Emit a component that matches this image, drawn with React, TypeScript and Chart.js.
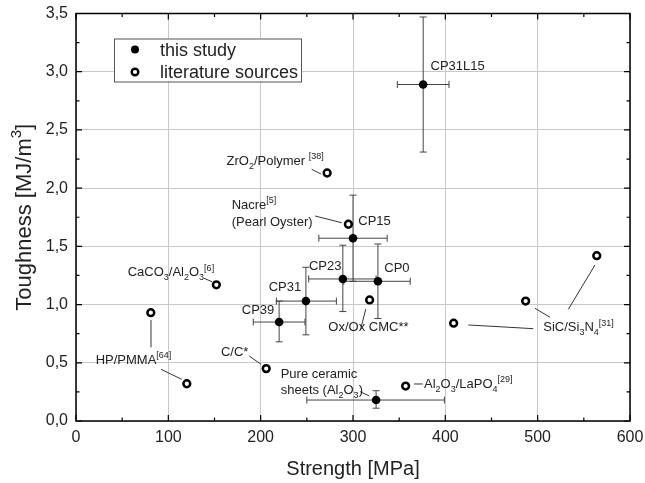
import React, { useEffect, useRef } from "react";
import { Chart, registerables } from "chart.js";
Chart.register(...registerables);

// ---- data: this study (filled) ----
const studyNames = ["CP31L15", "CP15", "CP23", "CP0", "CP31", "CP39", "Pure ceramic sheets (Al2O3)"];
const studyStrength = [376, 300, 289, 327, 249, 220, 325];
const studyToughness = [2.89, 1.57, 1.22, 1.2, 1.03, 0.85, 0.18];
const studyStrengthLow = [348, 263, 252, 290, 217, 192, 250];
const studyStrengthHigh = [404, 337, 325, 362, 282, 248, 399];
const studyToughnessLow = [2.31, 1.2, 0.94, 0.88, 0.74, 0.68, 0.11];
const studyToughnessHigh = [3.47, 1.94, 1.51, 1.52, 1.32, 1.03, 0.26];

// ---- data: literature sources (open) ----
const litNames = ["ZrO2/Polymer", "Nacre", "CaCO3/Al2O3", "HP/PMMA", "HP/PMMA", "C/C*", "Ox/Ox CMC**", "SiC/Si3N4", "SiC/Si3N4", "SiC/Si3N4", "Al2O3/LaPO4"];
const litStrength = [272, 295, 152, 81, 120, 206, 318, 409, 487, 564, 357];
const litToughness = [2.13, 1.69, 1.17, 0.93, 0.32, 0.45, 1.04, 0.84, 1.03, 1.42, 0.3];

// ---- axes ----
const xMin = 0, xMax = 600, xMajor = 100, xMinor = 50;
const yMin = 0, yMax = 3.5, yMajor = 0.5, yMinor = 0.25;
const xTitle = "Strength [MPa]";
const yTitle = "Toughness [MJ/m^{3}]";
const legendLabels = ["this study", "literature sources"];

// ---- annotation texts (markup: _{sub} ^{sup}) anchored in data coords ----
const annTexts = [
  "CP31L15", "ZrO_{2}/Polymer ^{[38]}", "Nacre^{[5]}", "(Pearl Oyster)", "CP15",
  "CaCO_{3}/Al_{2}O_{3}^{[6]}", "CP23", "CP0", "CP31", "CP39", "Ox/Ox CMC**",
  "HP/PMMA^{[64]}", "C/C*", "Pure ceramic", "sheets (Al_{2}O_{3})",
  "Al_{2}O_{3}/LaPO_{4}^{[29]}", "SiC/Si_{3}N_{4}^{[31]}",
];
const annX = [384, 163, 168.6, 168.6, 305.7, 56, 252.3, 333.9, 208.7, 179.5, 273.3, 21.3, 157, 221.7, 221.7, 376.9, 506.1];
const annY = [3.058, 2.242, 1.864, 1.712, 1.72, 1.282, 1.34, 1.317, 1.153, 0.959, 0.81, 0.533, 0.601, 0.41, 0.272, 0.324, 0.81];

// connector lines [x1, y1, x2, y2] in data coords
const connectors = [
  [255.3, 2.162, 265.3, 2.121],
  [258.8, 1.761, 287.8, 1.703],
  [138.6, 1.226, 147.3, 1.196],
  [308.3, 0.788, 313.8, 0.962],
  [81.2, 0.867, 81.2, 0.633],
  [92.1, 0.444, 114.5, 0.358],
  [187.7, 0.558, 200.4, 0.487],
  [307.6, 0.252, 317.7, 0.215],
  [366.1, 0.318, 375.5, 0.318],
  [495.3, 0.793, 424.9, 0.825],
  [513.4, 0.891, 497.1, 0.968],
  [533.2, 0.959, 562.1, 1.34],
];

const FONT = "'Liberation Sans', Arial, Helvetica, sans-serif";
const TEXT_COLOR = "#222";

type Seg = { t: string; k: number };
function parseRich(s: string): Seg[] {
  const out: Seg[] = [];
  let i = 0;
  let buf = "";
  while (i < s.length) {
    if ((s[i] === "_" || s[i] === "^") && s[i + 1] === "{") {
      if (buf) out.push({ t: buf, k: 0 });
      buf = "";
      const end = s.indexOf("}", i);
      out.push({ t: s.slice(i + 2, end), k: s[i] === "_" ? 1 : 2 });
      i = end + 1;
    } else {
      buf += s[i];
      i++;
    }
  }
  if (buf) out.push({ t: buf, k: 0 });
  return out;
}

function drawRich(ctx: CanvasRenderingContext2D, s: string, x: number, yCenter: number, size: number, align: "left" | "center" = "left") {
  const segs = parseRich(s);
  const small = Math.round(size * 0.68);
  let w = 0;
  for (const sg of segs) {
    ctx.font = `${sg.k ? small : size}px ${FONT}`;
    w += ctx.measureText(sg.t).width;
  }
  let cx = align === "center" ? x - w / 2 : x;
  const base = yCenter + size * 0.36;
  ctx.textAlign = "left";
  ctx.textBaseline = "alphabetic";
  ctx.fillStyle = TEXT_COLOR;
  for (const sg of segs) {
    ctx.font = `${sg.k ? small : size}px ${FONT}`;
    const dy = sg.k === 1 ? size * 0.3 : sg.k === 2 ? -size * 0.45 : 0;
    ctx.fillText(sg.t, cx, base + dy);
    cx += ctx.measureText(sg.t).width;
  }
}

const decorPlugin = {
  id: "decor",
  beforeDatasetsDraw(chart: any) {
    const ctx = chart.ctx as CanvasRenderingContext2D;
    const xs = chart.scales.x, ys = chart.scales.y;
    ctx.save();
    ctx.strokeStyle = "#444";
    ctx.lineWidth = 1;
    const cap = 3.5;
    for (let i = 0; i < studyStrength.length; i++) {
      const px = xs.getPixelForValue(studyStrength[i]);
      const py = ys.getPixelForValue(studyToughness[i]);
      const xl = xs.getPixelForValue(studyStrengthLow[i]);
      const xh = xs.getPixelForValue(studyStrengthHigh[i]);
      const yl = ys.getPixelForValue(studyToughnessLow[i]);
      const yh = ys.getPixelForValue(studyToughnessHigh[i]);
      ctx.beginPath();
      ctx.moveTo(xl, py); ctx.lineTo(xh, py);
      ctx.moveTo(xl, py - cap); ctx.lineTo(xl, py + cap);
      ctx.moveTo(xh, py - cap); ctx.lineTo(xh, py + cap);
      ctx.moveTo(px, yl); ctx.lineTo(px, yh);
      ctx.moveTo(px - cap, yl); ctx.lineTo(px + cap, yl);
      ctx.moveTo(px - cap, yh); ctx.lineTo(px + cap, yh);
      ctx.stroke();
    }
    // connectors
    ctx.strokeStyle = "#333";
    ctx.beginPath();
    for (const c of connectors) {
      ctx.moveTo(xs.getPixelForValue(c[0]), ys.getPixelForValue(c[1]));
      ctx.lineTo(xs.getPixelForValue(c[2]), ys.getPixelForValue(c[3]));
    }
    ctx.stroke();
    ctx.restore();
  },
  afterDatasetsDraw(chart: any) {
    const ctx = chart.ctx as CanvasRenderingContext2D;
    const xs = chart.scales.x, ys = chart.scales.y;
    const a = chart.chartArea;
    ctx.save();
    // annotations
    for (let i = 0; i < annTexts.length; i++) {
      drawRich(ctx, annTexts[i], xs.getPixelForValue(annX[i]), ys.getPixelForValue(annY[i]), 13);
    }
    // frame
    ctx.strokeStyle = "#000";
    ctx.lineWidth = 1.5;
    ctx.strokeRect(a.left, a.top, a.right - a.left, a.bottom - a.top);
    // inward ticks
    ctx.lineWidth = 1.2;
    ctx.beginPath();
    for (let v = xMin; v <= xMax + 1e-9; v += xMinor) {
      const major = Math.abs(v / xMajor - Math.round(v / xMajor)) < 1e-6;
      const len = major ? 6 : 3.5;
      const p = xs.getPixelForValue(v);
      ctx.moveTo(p, a.bottom); ctx.lineTo(p, a.bottom - len);
      ctx.moveTo(p, a.top); ctx.lineTo(p, a.top + len);
    }
    for (let v = yMin; v <= yMax + 1e-9; v += yMinor) {
      const major = Math.abs(v / yMajor - Math.round(v / yMajor)) < 1e-6;
      const len = major ? 6 : 3.5;
      const p = ys.getPixelForValue(v);
      ctx.moveTo(a.left, p); ctx.lineTo(a.left + len, p);
      ctx.moveTo(a.right, p); ctx.lineTo(a.right - len, p);
    }
    ctx.stroke();
    // legend
    const lx = a.left + 38, ly = a.top + 25, lw = 187, lh = 43;
    ctx.fillStyle = "#fff";
    ctx.fillRect(lx, ly, lw, lh);
    ctx.strokeStyle = "#555";
    ctx.lineWidth = 1;
    ctx.strokeRect(lx + 0.5, ly + 0.5, lw, lh);
    ctx.fillStyle = "#000";
    ctx.beginPath();
    ctx.arc(lx + 21, ly + 11, 4, 0, Math.PI * 2);
    ctx.fill();
    ctx.beginPath();
    ctx.arc(lx + 21, ly + 33.5, 3.3, 0, Math.PI * 2);
    ctx.lineWidth = 2.4;
    ctx.strokeStyle = "#000";
    ctx.fillStyle = "#fff";
    ctx.fill();
    ctx.stroke();
    drawRich(ctx, legendLabels[0], lx + 46, ly + 11, 18);
    drawRich(ctx, legendLabels[1], lx + 46, ly + 33.5, 18);
    // axis titles
    drawRich(ctx, xTitle, (a.left + a.right) / 2, 468, 20, "center");
    ctx.translate(23, (a.top + a.bottom) / 2);
    ctx.rotate(-Math.PI / 2);
    drawRich(ctx, yTitle, 0, 0, 22, "center");
    ctx.restore();
  },
};

export default function App() {
  const ref = useRef<HTMLCanvasElement | null>(null);
  useEffect(() => {
    if (!ref.current) return;
    const chart = new Chart(ref.current, {
      type: "scatter",
      data: {
        datasets: [
          {
            label: legendLabels[0],
            data: studyStrength.map((x, i) => ({ x, y: studyToughness[i] })),
            pointRadius: 4.3,
            pointBackgroundColor: "#000",
            pointBorderColor: "#000",
            pointBorderWidth: 0,
          },
          {
            label: legendLabels[1],
            data: litStrength.map((x, i) => ({ x, y: litToughness[i] })),
            pointRadius: 3.4,
            pointBackgroundColor: "#fff",
            pointBorderColor: "#000",
            pointBorderWidth: 2.5,
          },
        ],
      },
      options: {
        responsive: false,
        animation: false,
        devicePixelRatio: 1,
        layout: { padding: { top: 13.5, right: 15, left: 0, bottom: 0 } },
        plugins: { legend: { display: false }, tooltip: { enabled: false } },
        scales: {
          x: {
            type: "linear",
            min: xMin,
            max: xMax,
            afterFit: (s: any) => { s.height = 62; s.paddingLeft = 0; s.paddingRight = 0; },
            border: { display: false },
            grid: {
              drawTicks: false,
              color: (c: any) => (c.tick && Math.abs(c.tick.value % xMajor) < 1e-6 ? "#c8c8c8" : "rgba(0,0,0,0)"),
              lineWidth: 1,
            },
            ticks: {
              stepSize: xMinor,
              padding: 7,
              autoSkip: false,
              maxRotation: 0,
              color: TEXT_COLOR,
              font: { family: FONT, size: 16 },
              callback: (v: any) => (Math.abs(v % xMajor) < 1e-6 ? String(v) : ""),
            },
          },
          y: {
            type: "linear",
            min: yMin,
            max: yMax,
            afterFit: (s: any) => { s.width = 76; s.paddingTop = 0; s.paddingBottom = 0; },
            border: { display: false },
            grid: {
              drawTicks: false,
              color: (c: any) => {
                const v = c.tick ? c.tick.value : 0.1;
                return Math.abs(v / yMajor - Math.round(v / yMajor)) < 1e-6 ? "#c8c8c8" : "rgba(0,0,0,0)";
              },
              lineWidth: 1,
            },
            ticks: {
              stepSize: yMinor,
              padding: 8,
              autoSkip: false,
              color: TEXT_COLOR,
              font: { family: FONT, size: 16 },
              callback: (v: any) => (Math.abs(v / yMajor - Math.round(v / yMajor)) < 1e-6 ? Number(v).toFixed(1).replace(".", ",") : ""),
            },
          },
        },
      },
      plugins: [decorPlugin],
    } as any);
    return () => chart.destroy();
  }, []);
  return (
    <div style={{ position: "fixed", left: 0, top: 0, width: 645, height: 483, background: "#fff" }}>
      <canvas ref={ref} width={645} height={483} />
    </div>
  );
}
